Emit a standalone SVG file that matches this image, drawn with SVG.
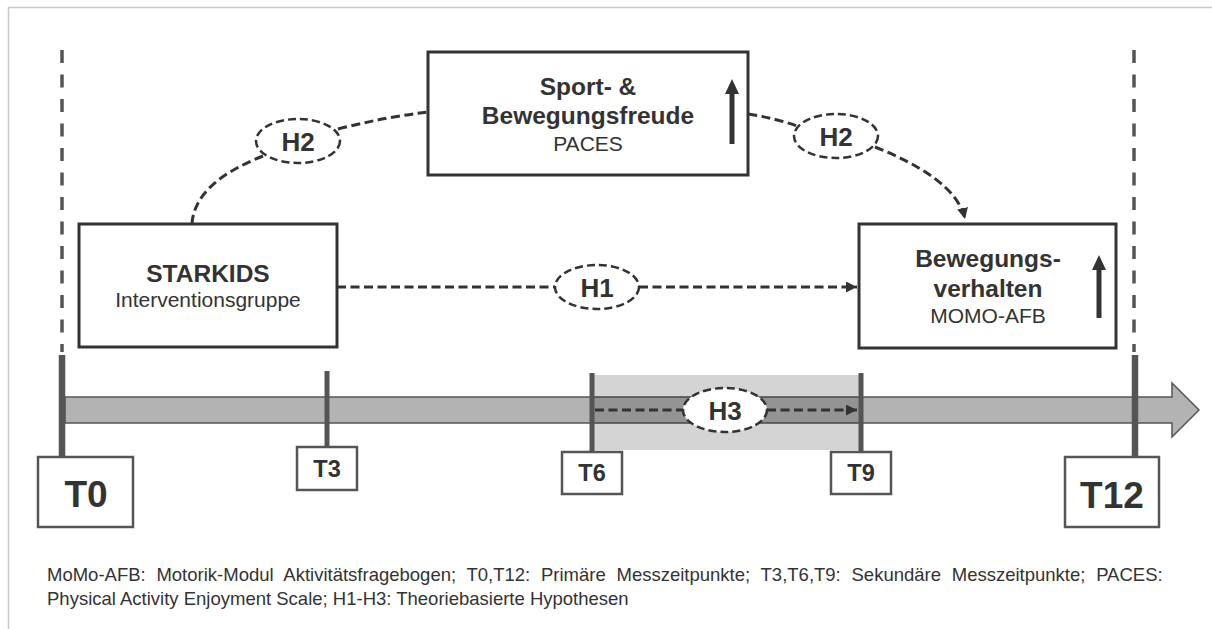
<svg xmlns="http://www.w3.org/2000/svg" width="1212" height="629" viewBox="0 0 1212 629">
  <defs>
    <style>
      text { font-family: "Liberation Sans", Arial, sans-serif; fill: #333; }
      .b { font-weight: bold; }
      .box { fill: #fff; stroke: #333; stroke-width: 3; }
      .tbox { fill: #fff; stroke: #555; stroke-width: 2.5; }
      .dash { fill: none; stroke: #333; stroke-width: 3; stroke-dasharray: 9 4.5; }
      .oval { fill: #fff; stroke: #333; stroke-width: 2.5; stroke-dasharray: 8 4; }
      .vdash { fill: none; stroke: #555; stroke-width: 3.5; stroke-dasharray: 13 11.5; }
      .tick { stroke: #555; }
    </style>
    <marker id="head" viewBox="0 0 10 10" refX="10" refY="5" markerWidth="11" markerHeight="11" markerUnits="userSpaceOnUse" orient="auto">
      <path d="M0,0 L10,5 L0,10 Z" fill="#333"/>
    </marker>
  </defs>

  <rect x="0" y="0" width="1212" height="629" fill="#fff"/>
  <!-- frame -->
  <path d="M8.5,640 V7.5 H1220" fill="none" stroke="#c8c8c8" stroke-width="1.5"/>

  <!-- primary measurement guides -->
  <line class="vdash" x1="62" y1="50" x2="62" y2="352"/>
  <line class="vdash" x1="1134" y1="50" x2="1134" y2="352"/>

  <!-- timeline -->
  <g id="timeline">
    <path d="M65,397 H1172 V383 L1199,410 L1172,437 V423 H65 Z" fill="#b3b3b3" stroke="#555" stroke-width="1.5"/>
    <rect x="593" y="375" width="266" height="75" fill="#000" fill-opacity="0.17"/>
  </g>

  <!-- time points -->
  <g id="t0">
    <line class="tick" x1="62" y1="355" x2="62" y2="458" stroke-width="6.5"/>
    <rect class="tbox" x="38" y="457" width="95" height="70"/>
    <text class="b" x="86" y="507" font-size="37" text-anchor="middle">T0</text>
  </g>
  <g id="t3">
    <line class="tick" x1="327" y1="371" x2="327" y2="448" stroke-width="5"/>
    <rect class="tbox" x="297" y="447" width="60" height="43"/>
    <text class="b" x="327" y="477" font-size="23.5" text-anchor="middle">T3</text>
  </g>
  <g id="t6">
    <line class="tick" x1="592" y1="373" x2="592" y2="452" stroke-width="5"/>
    <rect class="tbox" x="562" y="452" width="60" height="42"/>
    <text class="b" x="592" y="481" font-size="23.5" text-anchor="middle">T6</text>
  </g>
  <g id="t9">
    <line class="tick" x1="861" y1="373" x2="861" y2="452" stroke-width="5"/>
    <rect class="tbox" x="831" y="452" width="60" height="42"/>
    <text class="b" x="861" y="481" font-size="23.5" text-anchor="middle">T9</text>
  </g>
  <g id="t12">
    <line class="tick" x1="1135" y1="355" x2="1135" y2="458" stroke-width="6.5"/>
    <rect class="tbox" x="1065" y="457" width="94" height="70"/>
    <text class="b" x="1112" y="508" font-size="37" text-anchor="middle">T12</text>
  </g>

  <!-- connectors -->
  <g id="connectors">
    <path class="dash" d="M337,287 H556"/>
    <path class="dash" d="M639,287 H857" marker-end="url(#head)"/>
    <path class="dash" d="M263,156 C228,170 195,190 192,223"/>
    <path class="dash" d="M338,129 Q385,117 428,112"/>
    <path class="dash" d="M748,114 Q775,118 797,126"/>
    <path class="dash" d="M875,147 C920,165 958,188 965,219" marker-end="url(#head)"/>
    <path class="dash" d="M595,410 H684"/>
    <path class="dash" d="M767,410 H857" marker-end="url(#head)"/>
  </g>

  <!-- hypothesis labels -->
  <g id="h1">
    <ellipse class="oval" cx="597" cy="287" rx="42" ry="22"/>
    <text class="b" x="597" y="296.5" font-size="26" text-anchor="middle">H1</text>
  </g>
  <g id="h2-left">
    <ellipse class="oval" cx="298" cy="141" rx="42" ry="22"/>
    <text class="b" x="298" y="150.5" font-size="26" text-anchor="middle">H2</text>
  </g>
  <g id="h2-right">
    <ellipse class="oval" cx="836" cy="136" rx="42" ry="22"/>
    <text class="b" x="836" y="145.5" font-size="26" text-anchor="middle">H2</text>
  </g>
  <g id="h3">
    <ellipse class="oval" cx="725" cy="410" rx="42" ry="22"/>
    <text class="b" x="725" y="419.5" font-size="26" text-anchor="middle">H3</text>
  </g>

  <!-- nodes -->
  <g id="starkids">
    <rect class="box" x="79" y="224" width="258" height="123"/>
    <text class="b" x="208" y="282" font-size="24.5" text-anchor="middle">STARKIDS</text>
    <text x="208" y="307" font-size="21" text-anchor="middle">Interventionsgruppe</text>
  </g>
  <g id="freude">
    <rect class="box" x="428" y="52" width="320" height="123"/>
    <text class="b" x="588" y="95" font-size="24.5" text-anchor="middle">Sport- &amp;</text>
    <text class="b" x="588" y="124" font-size="24.5" text-anchor="middle">Bewegungsfreude</text>
    <text x="588" y="151" font-size="21" text-anchor="middle">PACES</text>
    <line x1="732" y1="144" x2="732" y2="92" stroke="#333" stroke-width="5"/>
    <path d="M725,94 L739,94 L732,79 Z" fill="#333"/>
  </g>
  <g id="verhalten">
    <rect class="box" x="859" y="224" width="257" height="124"/>
    <text class="b" x="988" y="267" font-size="24.5" text-anchor="middle">Bewegungs-</text>
    <text class="b" x="988" y="297" font-size="24.5" text-anchor="middle">verhalten</text>
    <text x="988" y="323" font-size="21" text-anchor="middle">MOMO-AFB</text>
    <line x1="1099" y1="318" x2="1099" y2="268" stroke="#333" stroke-width="5"/>
    <path d="M1092,270 L1106,270 L1099,255 Z" fill="#333"/>
  </g>

  <!-- legend -->
  <g id="legend">
    <text x="47" y="581" font-size="18.5" word-spacing="5.6">MoMo-AFB: Motorik-Modul Aktivitätsfragebogen; T0,T12: Primäre Messzeitpunkte; T3,T6,T9: Sekundäre Messzeitpunkte; PACES:</text>
    <text x="47" y="605" font-size="18.5">Physical Activity Enjoyment Scale; H1-H3: Theoriebasierte Hypothesen</text>
  </g>
</svg>
